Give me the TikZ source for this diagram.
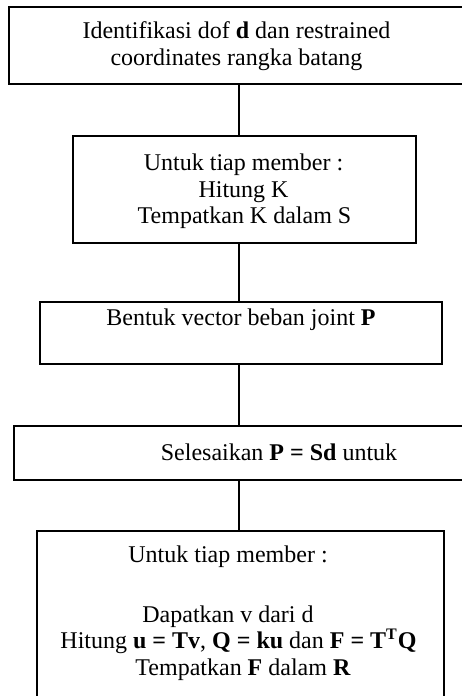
\documentclass[tikz,border=0pt]{standalone}
\usepackage{fontspec}
\setmainfont{Liberation Serif}
\begin{document}
\begin{tikzpicture}[x=0.5pt,y=-0.5pt,
  boxnode/.style={draw,line width=1pt,inner sep=0pt,anchor=north west},
  txt/.style={inner sep=0pt,anchor=base,font=\fontsize{12}{13.25}\selectfont},
  link/.style={line width=0.8pt}]
\useasboundingbox (0,0) rectangle (461,696);
\coordinate (axis) at (239,0);
% boxes
\node[boxnode,minimum width=231pt,minimum height=38.5pt] (b1) at (8,6) {};
\node[boxnode,minimum width=171.5pt,minimum height=53.5pt] (b2) at (72,135) {};
\node[boxnode,minimum width=201pt,minimum height=31pt] (b3) at (39,301) {};
\node[boxnode,minimum width=240pt,minimum height=27pt] (b4) at (13,425) {};
\node[boxnode,minimum width=203.5pt,minimum height=100pt] (b5) at (36,530) {};
% texts
\node[txt] (t1a) at (236.5,39) {Identifikasi dof \textbf{d} dan restrained};
\node[txt] (t1b) at (236.5,65) {coordinates rangka batang};
\node[txt] (t2a) at (243.5,170) {Untuk tiap member :};
\node[txt] (t2b) at (243.5,197) {Hitung K};
\node[txt] (t2c) at (244.5,223) {Tempatkan K dalam S};
\node[txt] (t3) at (241,325) {Bentuk vector beban joint \textbf{P}};
\node[txt] (t4) at (279,460) {Selesaikan \textbf{P = Sd} untuk};
\node[txt] (t5a) at (228,562) {Untuk tiap member :};
\node[txt] (t5b) at (228,622) {Dapatkan v dari d};
\node[txt] (t5c) at (238.5,648) {Hitung \textbf{u = Tv}, \textbf{Q = ku} dan \textbf{F = T\textsuperscript{T}Q}};
\node[txt] (t5d) at (243,675) {Tempatkan \textbf{F} dalam \textbf{R}};
% connectors
\draw[link] (b1.south -| axis) -- (b2.north -| axis);
\draw[link] (b2.south -| axis) -- (b3.north -| axis);
\draw[link] (b3.south -| axis) -- (b4.north -| axis);
\draw[link] (b4.south -| axis) -- (b5.north -| axis);
\end{tikzpicture}
\end{document}
